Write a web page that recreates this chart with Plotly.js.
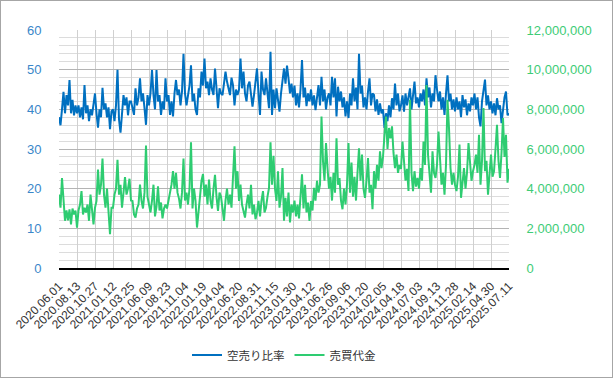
<!DOCTYPE html>
<html>
<head>
<meta charset="utf-8">
<script src="https://cdn.plot.ly/plotly-3.0.1.min.js"></script>
<style>
  html, body { margin: 0; padding: 0; background: #fff; }
  #wrap { position: relative; width: 615px; height: 380px; }
  #chart { width: 615px; height: 380px; }
  #frame { position: absolute; left: 0; top: 0; width: 613px; height: 378px; box-sizing: border-box; border: 1px solid #a6a6a6; pointer-events: none; }
</style>
</head>
<body>
<div id="wrap"><div id="chart"></div><div id="frame"></div></div>
<script>
// Tick labels (one every 12 sampled points)
const tickLabels = ["2020.06.01","2020.08.13","2020.10.27","2021.01.12","2021.03.25","2021.06.09","2021.08.23","2021.11.04","2022.01.19","2022.04.04","2022.06.20","2022.08.31","2022.11.15","2023.01.30","2023.04.12","2023.06.26","2023.09.06","2023.11.20","2024.02.05","2024.04.18","2024.07.03","2024.09.13","2024.11.28","2025.02.14","2025.04.30","2025.07.11"];
const pointsPerLabel = 12;

// 空売り比率 (%)
const shortRatio = [
38,36,40,44.4,39,43.6,41,47.4,39,42.4,38.5,41,
39,41,38,40.5,37.5,46.1,39,41,37,40,38.5,41.5,
44,39,35.4,40,38,45.4,40,41.5,38,40.5,35,39.5,
40,37,41,50,37.5,34.1,40,43.6,41,43,38.5,42,
42,40,38.6,45.3,41,43,47.8,42,44,40.3,36.1,43.6,
41,44,49.9,43.6,40,49.9,42,43.6,38.6,42,40,47.8,
42,43.6,38.6,42,38.2,44,47.4,43.6,45,41,44.5,54,
44,41,43.6,46,51.1,42,44,40,38.6,45.3,43,49.5,
46,52.8,45.3,47,43.6,47.8,45,43.6,50.3,44,40.3,45.3,
44,43.6,46,49.5,47,45,43.6,48,46.1,41,45,43.6,
45,52.8,45.3,49.5,44,42,46,47,44,40.7,43.6,47.8,
50.3,44,38.6,49.5,45,43.6,47.8,44,40.3,54.5,38.6,45,
40.3,45.3,42,39.4,44,47.8,50.3,46.5,51,47.8,44,46.5,
43,46,41,44,40.5,45,52.4,43,45.5,40.8,44,42,
45,41,43.5,39.8,44,46.1,41,48.2,42,45,40,43,
44,41,48.2,43,47.8,38.2,45.7,42,44.5,40.5,43,38.2,
42,37.8,44,41,47.8,42,45.5,40,54,44,46,40.5,
43,40,44.5,47.8,41,44,43.6,39.5,42.5,38.6,41.5,39,
40,35.3,39,37,41,38,42.8,40,46.5,41,44,39.5,
41,43.5,39.4,44,41,43,45.3,40,44,47,41.5,43,
40.5,44,42,45,41,47.8,43,45.5,40.5,44,42,48.6,
45,42,44.5,40,43,38.6,44,48.6,42,44,40,42.5,
39.5,43,40,42,38,43.6,40.5,42.5,38.5,41.5,39.5,43,
41,44,40,43,38,35.7,42,45,47.5,41,43.5,40,
42,39,41.5,38.5,42.8,40,41,36.5,40,43,44.5,38.5,
39
];

// 売買代金
const tradingValue = [
3700000,3040000,4540000,3200000,2380000,2900000,2400000,2960000,2200000,3000000,2700000,2900000,
2040000,2900000,3200000,3880000,2700000,3040000,2800000,3200000,2380000,3700000,2700000,2200000,
3040000,3380000,4960000,3700000,4200000,5520000,3700000,3040000,4000000,2600000,1700000,3040000,
3040000,3700000,4000000,5460000,3700000,4200000,3040000,3800000,4580000,3700000,4000000,4500000,
3400000,3380000,2700000,2540000,3000000,3200000,4200000,3400000,3000000,3800000,6180000,3600000,
3200000,2800000,3400000,4200000,2600000,3100000,4120000,2900000,3300000,2500000,3000000,3200000,
3000000,3400000,3700000,4200000,4880000,4000000,4800000,3800000,3500000,3000000,3800000,5520000,
3400000,3800000,3200000,4000000,6340000,3000000,4000000,3400000,2040000,3000000,3600000,4400000,
4740000,3600000,4200000,3200000,4460000,3400000,3000000,4000000,4700000,3600000,2880000,3800000,
3600000,3000000,2380000,3400000,4000000,3200000,3700000,3040000,4400000,6140000,4000000,4880000,
3380000,4200000,3200000,2800000,2540000,3200000,3700000,3000000,4200000,2700000,3200000,2460000,
2800000,3380000,2600000,3400000,3880000,2800000,3040000,3600000,4040000,6340000,4200000,5660000,
4000000,3380000,4880000,3040000,3600000,5040000,2380000,3540000,2600000,3800000,2300000,3200000,
2800000,3400000,2600000,3200000,2500000,3600000,4720000,3000000,4200000,2800000,3300000,2380000,
3380000,2900000,4040000,3400000,4400000,3800000,4200000,7640000,5380000,4400000,6300000,5040000,
4000000,4600000,3400000,4800000,3800000,6540000,4200000,4540000,3400000,2960000,4000000,3200000,
4200000,6300000,3800000,5320000,3600000,4600000,3400000,4800000,6040000,4400000,5720000,4000000,
3540000,4400000,5540000,3800000,4200000,2960000,4880000,4000000,5200000,4400000,5880000,5040000,
5600000,6720000,7640000,6000000,7060000,6540000,7140000,5800000,5040000,5720000,4800000,5200000,
5000000,6380000,5400000,4400000,5000000,3880000,8480000,4800000,3880000,4880000,4100000,4540000,
4000000,5040000,4400000,6380000,5200000,9220000,5720000,4600000,3800000,5880000,4800000,4540000,
5200000,6880000,5400000,4200000,4800000,3700000,5200000,8480000,7060000,5040000,4200000,4800000,
4200000,3880000,4600000,6220000,3540000,4400000,5040000,4000000,4800000,6300000,5040000,4400000,
4880000,5200000,5720000,4800000,6720000,4200000,5400000,8060000,4880000,5400000,3700000,5000000,
5720000,4600000,4880000,6000000,7220000,5400000,4540000,5800000,7560000,5600000,6720000,4300000,
5000000
];

const xIdx = shortRatio.map((_, i) => i);
const tickVals = tickLabels.map((_, i) => i * pointsPerLabel);

const blue = '#0070c0';
const green = '#2ecc71';

const traces = [
  { x: xIdx, y: shortRatio, type: 'scatter', mode: 'lines', name: '空売り比率',
    line: { color: blue, width: 2 }, yaxis: 'y' },
  { x: xIdx, y: tradingValue, type: 'scatter', mode: 'lines', name: '売買代金',
    line: { color: green, width: 2 }, yaxis: 'y2' }
];

const layout = {
  width: 615, height: 380,
  margin: { l: 59, r: 106, t: 30, b: 111, pad: 0 },
  paper_bgcolor: '#ffffff', plot_bgcolor: '#ffffff',
  font: { family: 'Liberation Sans, Arial, sans-serif', size: 12, color: '#404040' },
  showlegend: true,
  hovermode: false,
  legend: { orientation: 'h', x: 0.5, xanchor: 'center', y: -0.36, yanchor: 'middle',
            font: { family: '"Noto Sans CJK JP", sans-serif', size: 11.5, color: '#333333' },
            itemwidth: 30, tracegroupgap: 0 },
  xaxis: {
    range: [0, shortRatio.length - 1],
    tickmode: 'array', tickvals: tickVals, ticktext: tickLabels,
    tickangle: -45, tickfont: { size: 12, color: '#333333' },
    ticks: 'outside', ticklen: 5, tickcolor: 'rgba(0,0,0,0)',
    showgrid: true, gridcolor: '#d0d0d0', gridwidth: 1,
    showline: true, linecolor: '#000000', linewidth: 1.5,
    zeroline: false, mirror: false
  },
  yaxis: {
    range: [0, 60], dtick: 10, tick0: 0,
    tickfont: { size: 13, color: '#3a87c9' },
    ticks: 'outside', ticklen: 14, tickcolor: 'rgba(0,0,0,0)',
    showgrid: true, gridcolor: '#b4b4b4', gridwidth: 1,
    minor: { dtick: 2, showgrid: true, gridcolor: '#dcdcdc', gridwidth: 1 },
    zeroline: false, showline: false
  },
  yaxis2: {
    range: [0, 12000000], dtick: 2000000, tick0: 0,
    overlaying: 'y', side: 'right', tickformat: ',d',
    tickfont: { size: 13, color: '#3dcc76' },
    ticks: 'outside', ticklen: 14, tickcolor: 'rgba(0,0,0,0)',
    showgrid: false, zeroline: false, showline: false
  }
};

Plotly.newPlot('chart', traces, layout, { staticPlot: true, displayModeBar: false });
</script>
</body>
</html>
